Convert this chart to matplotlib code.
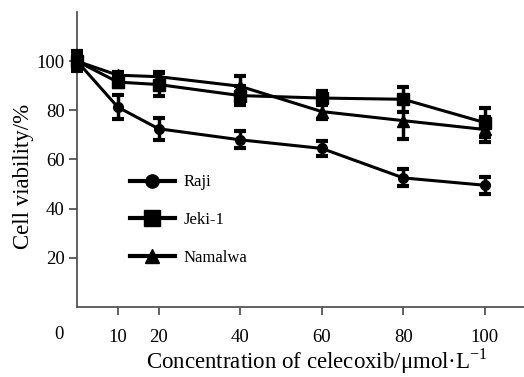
import numpy as np
import matplotlib
matplotlib.use('Agg')
import matplotlib.pyplot as plt
from matplotlib.lines import Line2D

plt.rcParams['font.family'] = ['Liberation Serif', 'DejaVu Serif']

# data
conc = [0, 10, 20, 40, 60, 80, 100]
raji = [100, 81.3, 72.5, 68.0, 64.5, 52.5, 49.5]
raji_err = [3.5, 5.0, 4.5, 3.5, 3.0, 3.5, 3.5]
jeki = [100, 91.5, 90.5, 86.0, 85.0, 84.5, 75.0]
jeki_err = [4.0, 2.0, 4.5, 4.0, 3.0, 5.0, 6.0]
namalwa = [100, 94.3, 93.7, 89.8, 79.5, 75.8, 72.2]
namalwa_err = [3.5, 1.5, 2.0, 4.0, 3.0, 7.5, 5.0]
xticks = [10, 20, 40, 60, 80, 100]
yticks = [20, 40, 60, 80, 100]

fig = plt.figure(figsize=(5.24, 3.77), dpi=100)
ax = fig.add_axes([0.147, 0.186, 0.853, 0.782])

series = [(raji, raji_err, 'o', 7, 'Raji'),
          (jeki, jeki_err, 's', 9, 'Jeki-1'),
          (namalwa, namalwa_err, '^', 8, 'Namalwa')]
handles = []
for y, e, m, ms, lab in series:
    ax.errorbar(conc, y, yerr=e, color='black', lw=2.2, marker=m, ms=ms,
                elinewidth=2.5, capsize=4, capthick=3, zorder=3, clip_on=False)
    handles.append(Line2D([], [], color='black', lw=3, marker=m, ms=ms + 2.5, label=lab))

ax.set_xlim(0, 109.6)
ax.set_ylim(0, 120)
ax.set_xticks(xticks)
ax.set_yticks(yticks)
for s in ['top', 'right']:
    ax.spines[s].set_visible(False)
for s in ['left', 'bottom']:
    ax.spines[s].set_color('#555555')
    ax.spines[s].set_linewidth(1.3)
ax.tick_params(axis='both', direction='out', length=6, width=1.3, color='#555555',
               labelsize=13.5)
ax.tick_params(axis='x', pad=10)
ax.tick_params(axis='y', pad=3)
ax.text(-0.04, -0.095, '0', transform=ax.transAxes, ha='center', va='center', fontsize=13.5)

ax.set_ylabel('Cell viability/%', fontsize=16.5)
ax.yaxis.set_label_coords(-0.096, 0.444)
ax.set_xlabel('Concentration of celecoxib/\u03bcmol\u00b7L$^{\\mathregular{-1}}$', fontsize=16.5)
ax.xaxis.set_label_coords(0.536, -0.208)
ax.xaxis.label.set_va('baseline')

ax.legend(handles=handles, loc='upper left', bbox_to_anchor=(0.084, 0.5), frameon=False,
          handlelength=2.7, labelspacing=1.3, fontsize=12, handletextpad=0.55)

fig.savefig('out.png', dpi=100)
